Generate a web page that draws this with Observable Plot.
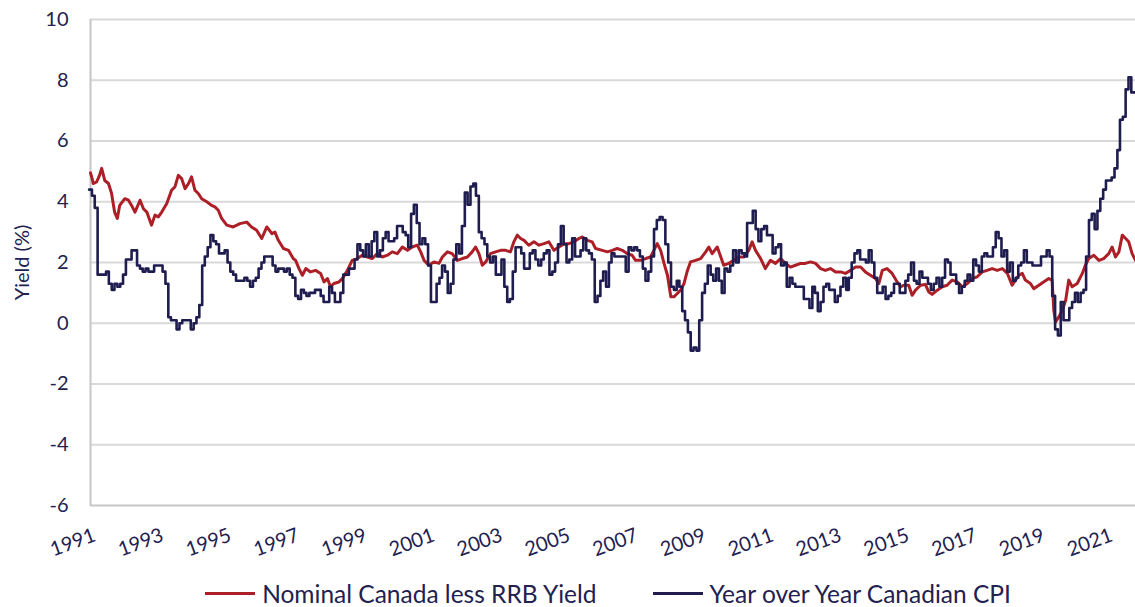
<!DOCTYPE html>
<html>
<head>
<meta charset="utf-8">
<script src="https://cdn.jsdelivr.net/npm/d3@7"></script>
<script src="https://cdn.jsdelivr.net/npm/@observablehq/plot@0.6"></script>
<style>
  html, body { margin: 0; padding: 0; background: #fff; }
  body { font-family: Lato, "Source Sans Pro", "Noto Sans", sans-serif; color: #22214f; width: 1135px; }
  #chart svg { display: block; }
  #legend { display: flex; justify-content: center; align-items: center; gap: 56px;
            box-sizing: border-box; width: 1135px; padding-left: 90px; padding-right: 9px;
            height: 27px; font-size: 24.5px; color: #22214f; }
  .item { display: flex; align-items: center; gap: 7px; white-space: nowrap; }
  .sw { width: 50px; height: 3px; }
</style>
</head>
<body>
<div id="chart"></div>
<div id="legend"></div>
<script>
// ---- data ----
const seriesNames = ["Nominal Canada less RRB Yield", "Year over Year Canadian CPI"];
const seriesColors = ["#ad1f27", "#1f1d4f"];
const yTitle = "Yield (%)";
const yTicks = [-6, -4, -2, 0, 2, 4, 6, 8, 10];
const xTickYears = [1991, 1993, 1995, 1997, 1999, 2001, 2003, 2005, 2007, 2009, 2011, 2013, 2015, 2017, 2019, 2021];
const xRange = [1991.79, 2022.62]; // decimal years covered by the data

// Nominal Canada less RRB yield (breakeven), [decimal year, %]
const breakeven = [
  [1991.79,4.95],[1991.84,4.75],[1991.87,4.6],[1991.97,4.65],[1992.05,4.85],[1992.12,5.1],[1992.21,4.7],
  [1992.32,4.6],[1992.41,4.28],[1992.50,3.66],[1992.58,3.45],[1992.65,3.88],[1992.80,4.1],[1992.91,4.05],
  [1993.00,3.88],[1993.10,3.66],[1993.25,4.05],[1993.35,3.77],[1993.45,3.66],[1993.59,3.23],[1993.69,3.56],
  [1993.79,3.5],[1993.89,3.66],[1994.04,3.94],[1994.18,4.38],[1994.28,4.49],[1994.38,4.87],[1994.48,4.76],
  [1994.58,4.43],[1994.68,4.6],[1994.77,4.82],[1994.87,4.38],[1994.97,4.27],[1995.07,4.1],[1995.22,4.0],
  [1995.36,3.88],[1995.46,3.83],[1995.56,3.72],[1995.66,3.45],[1995.81,3.23],[1996.00,3.17],[1996.20,3.28],
  [1996.40,3.33],[1996.54,3.17],[1996.69,3.06],[1996.84,2.79],[1996.99,3.17],[1997.14,2.95],[1997.23,3.0],
  [1997.33,2.73],[1997.48,2.46],[1997.63,2.4],[1997.77,2.13],[1997.84,2.07],[1997.94,1.8],[1998.04,1.58],
  [1998.14,1.8],[1998.28,1.69],[1998.43,1.74],[1998.58,1.64],[1998.68,1.36],[1998.78,1.47],[1998.87,1.2],
  [1998.97,1.31],[1999.12,1.36],[1999.22,1.47],[1999.37,1.74],[1999.51,2.07],[1999.66,2.13],[1999.81,2.24],
  [1999.96,2.18],[2000.10,2.13],[2000.25,2.29],[2000.40,2.18],[2000.55,2.24],[2000.69,2.35],[2000.84,2.29],
  [2000.99,2.51],[2001.14,2.4],[2001.28,2.51],[2001.43,2.57],[2001.53,2.35],[2001.63,2.07],[2001.77,1.91],
  [2001.92,2.02],[2002.07,1.97],[2002.17,2.18],[2002.32,2.35],[2002.46,2.29],[2002.61,2.07],[2002.76,2.13],
  [2002.91,2.18],[2003.05,2.35],[2003.15,2.51],[2003.25,2.29],[2003.35,1.91],[2003.45,2.02],[2003.59,2.29],
  [2003.74,2.35],[2003.89,2.4],[2004.04,2.4],[2004.18,2.35],[2004.28,2.68],[2004.38,2.9],[2004.48,2.79],
  [2004.58,2.73],[2004.72,2.57],[2004.87,2.68],[2005.02,2.57],[2005.17,2.62],[2005.31,2.68],[2005.46,2.4],
  [2005.61,2.51],[2005.76,2.62],[2005.90,2.62],[2006.05,2.68],[2006.20,2.79],[2006.30,2.84],[2006.45,2.73],
  [2006.59,2.68],[2006.69,2.46],[2006.89,2.4],[2007.04,2.35],[2007.18,2.4],[2007.33,2.46],[2007.48,2.4],
  [2007.63,2.29],[2007.77,2.24],[2007.87,2.07],[2008.02,2.07],[2008.17,2.13],[2008.31,2.18],[2008.41,2.4],
  [2008.51,2.62],[2008.61,2.4],[2008.71,1.97],[2008.81,1.58],[2008.91,0.87],[2009.00,0.87],[2009.10,0.98],
  [2009.20,1.09],[2009.30,1.31],[2009.40,1.74],[2009.49,2.02],[2009.64,2.07],[2009.79,2.13],[2009.94,2.35],
  [2010.03,2.51],[2010.13,2.29],[2010.28,2.51],[2010.38,2.2],[2010.47,1.91],[2010.62,1.97],[2010.77,2.07],
  [2010.92,2.18],[2011.06,2.18],[2011.21,2.4],[2011.31,2.68],[2011.41,2.4],[2011.56,2.13],[2011.70,1.8],
  [2011.85,2.07],[2012.00,1.97],[2012.15,2.13],[2012.29,1.97],[2012.44,1.85],[2012.59,1.91],[2012.74,1.97],
  [2012.88,1.97],[2013.03,2.02],[2013.18,1.97],[2013.33,1.8],[2013.47,1.74],[2013.62,1.8],[2013.77,1.69],
  [2013.92,1.69],[2014.06,1.64],[2014.21,1.74],[2014.36,1.85],[2014.51,1.85],[2014.65,1.69],[2014.80,1.58],
  [2014.95,1.47],[2015.05,1.31],[2015.15,1.74],[2015.29,1.8],[2015.44,1.64],[2015.59,1.36],[2015.69,1.2],
  [2015.78,1.25],[2015.93,1.25],[2016.03,0.92],[2016.13,1.09],[2016.28,1.25],[2016.42,1.28],[2016.52,1.03],
  [2016.62,0.95],[2016.77,1.09],[2016.92,1.2],[2017.06,1.25],[2017.21,1.42],[2017.36,1.36],[2017.51,1.2],
  [2017.66,1.31],[2017.80,1.47],[2017.95,1.53],[2018.10,1.69],[2018.24,1.74],[2018.39,1.8],[2018.54,1.74],
  [2018.69,1.8],[2018.84,1.64],[2018.98,1.25],[2019.08,1.42],[2019.18,1.58],[2019.28,1.64],[2019.37,1.42],
  [2019.52,1.31],[2019.62,1.14],[2019.77,1.25],[2019.91,1.36],[2020.06,1.47],[2020.16,1.42],[2020.21,0.43],
  [2020.26,0.04],[2020.36,0.21],[2020.46,0.43],[2020.56,0.76],[2020.65,1.42],[2020.75,1.2],[2020.90,1.31],
  [2021.05,1.64],[2021.14,1.91],[2021.24,2.13],[2021.39,2.24],[2021.54,2.07],[2021.68,2.13],[2021.83,2.29],
  [2021.93,2.51],[2022.03,2.18],[2022.13,2.35],[2022.23,2.9],[2022.33,2.79],[2022.42,2.68],[2022.52,2.29],
  [2022.62,2.07]
];

// Year over year Canadian CPI, monthly, starting October 1991
const cpiStartYear = 1991, cpiStartMonth = 10;
const cpiValues = [
  4.4, 4.2, 3.8,
  1.6, 1.6, 1.6, 1.7, 1.3, 1.1, 1.3, 1.2, 1.3, 1.6, 2.1, 2.1,
  2.4, 2.4, 1.9, 1.8, 1.7, 1.8, 1.7, 1.7, 1.9, 1.9, 1.9, 1.7,
  1.3, 0.2, 0.1, 0.1, -0.2, 0.0, 0.1, 0.1, 0.1, -0.2, 0.0, 0.2,
  0.6, 1.9, 2.2, 2.5, 2.9, 2.7, 2.6, 2.3, 2.3, 2.4, 2.0, 1.7,
  1.6, 1.4, 1.4, 1.4, 1.5, 1.4, 1.2, 1.4, 1.5, 1.8, 2.0, 2.2,
  2.2, 2.2, 1.9, 1.7, 1.8, 1.8, 1.7, 1.8, 1.6, 1.5, 0.9, 0.8,
  1.1, 1.0, 0.9, 1.0, 1.0, 1.1, 1.1, 0.9, 0.7, 0.7, 1.2, 1.0,
  0.7, 0.7, 1.0, 1.6, 1.6, 1.8, 1.8, 2.1, 2.6, 2.4, 2.2, 2.6,
  2.2, 2.7, 3.0, 2.2, 2.4, 2.8, 3.0, 2.7, 2.7, 2.8, 3.2, 3.2,
  3.0, 2.9, 2.5, 3.6, 3.9, 3.3, 2.6, 2.8, 2.6, 1.9, 0.7, 0.7,
  1.3, 1.5, 1.9, 1.7, 1.0, 1.3, 2.1, 2.6, 2.3, 3.2, 4.3, 3.9,
  4.5, 4.6, 4.2, 3.0, 2.8, 2.6, 2.2, 2.0, 2.2, 1.6, 1.6, 2.1,
  1.2, 0.7, 0.8, 1.7, 2.5, 2.5, 2.3, 1.8, 1.8, 2.3, 2.4, 2.1,
  1.9, 2.1, 2.3, 2.4, 1.6, 1.7, 2.0, 2.6, 3.2, 2.6, 2.0, 2.1,
  2.8, 2.2, 2.2, 2.4, 2.8, 2.4, 2.3, 2.1, 0.7, 0.9, 1.4, 1.7,
  1.2, 2.0, 2.3, 2.2, 2.2, 2.2, 2.2, 1.7, 2.5, 2.4, 2.5, 2.4,
  2.2, 1.8, 1.4, 1.7, 2.2, 3.1, 3.4, 3.5, 3.4, 2.6, 2.0, 1.2,
  1.1, 1.4, 1.2, 0.4, 0.1, -0.3, -0.9, -0.8, -0.9, 0.1, 1.0, 1.3,
  1.9, 1.6, 1.4, 1.8, 1.4, 1.0, 1.8, 1.7, 1.9, 2.4, 2.0, 2.4,
  2.3, 2.2, 3.3, 3.3, 3.7, 3.1, 2.7, 3.1, 3.2, 2.9, 2.9, 2.3,
  2.5, 2.6, 1.9, 2.0, 1.2, 1.5, 1.3, 1.2, 1.2, 1.2, 0.8, 0.8,
  0.5, 1.2, 1.0, 0.4, 0.7, 1.2, 1.3, 1.1, 1.1, 0.7, 0.9, 1.2,
  1.5, 1.1, 1.5, 2.0, 2.3, 2.4, 2.1, 2.1, 2.0, 2.4, 2.0, 1.5,
  1.0, 1.0, 1.2, 0.8, 0.9, 1.0, 1.3, 1.3, 1.0, 1.0, 1.4, 1.6,
  2.0, 1.4, 1.3, 1.7, 1.5, 1.5, 1.3, 1.1, 1.3, 1.5, 1.2, 1.5,
  2.1, 2.0, 1.6, 1.6, 1.3, 1.0, 1.2, 1.4, 1.6, 1.4, 2.1, 1.9,
  1.7, 2.2, 2.3, 2.2, 2.2, 2.5, 3.0, 2.8, 2.2, 2.4, 1.7, 2.0,
  1.4, 1.5, 1.9, 2.0, 2.4, 2.0, 2.0, 1.9, 1.9, 1.9, 2.2, 2.2,
  2.4, 2.2, 0.9, -0.2, -0.4, 0.7, 0.1, 0.1, 0.5, 0.7, 1.0, 0.7,
  1.0, 1.1, 2.2, 3.4, 3.6, 3.1, 3.7, 4.1, 4.4, 4.7, 4.7, 4.8,
  5.1, 5.7, 6.7, 6.8, 7.7, 8.1, 7.6
];

// ---- helpers / tables ----
function decYear(t) {
  const y = Math.floor(t);
  const s = Date.UTC(y, 0, 1), e = Date.UTC(y + 1, 0, 1);
  return new Date(s + (t - y) * (e - s));
}
const xDomain = xRange.map(decYear);
const redRows = breakeven.map(([t, v]) => ({date: decYear(t), value: v}));
const cpiRows = cpiValues.map((v, i) => ({date: new Date(Date.UTC(cpiStartYear, cpiStartMonth - 1 + i, 1)), value: v}));
cpiRows.unshift({date: xDomain[0], value: cpiValues[0]});
cpiRows.push({date: xDomain[1], value: cpiValues[cpiValues.length - 1]});
const xTicks = xTickYears.map(y => new Date(Date.UTC(y, 11, 1)));

const textColor = "#22214f";

const chart = Plot.plot({
  width: 1135,
  height: 580,
  marginLeft: 90,
  marginRight: 0,
  marginTop: 19,
  marginBottom: 75,
  style: {fontFamily: "Lato, 'Source Sans Pro', sans-serif", fontSize: "20px", color: textColor, background: "#fff"},
  x: {type: "utc", domain: xDomain},
  y: {domain: [-6, 10]},
  marks: [
    Plot.ruleY(yTicks.filter(d => d > -6), {stroke: "#d9d9d9", strokeWidth: 2}),
    Plot.ruleY([-6], {stroke: "#c6c6c6", strokeWidth: 2}),
    Plot.ruleX([xDomain[0]], {stroke: "#c6c6c6", strokeWidth: 2}),
    Plot.line(redRows, {x: "date", y: "value", stroke: seriesColors[0], strokeWidth: 3, strokeLinejoin: "round"}),
    Plot.line(cpiRows, {x: "date", y: "value", curve: "step-after", stroke: seriesColors[1], strokeWidth: 2.6}),
    Plot.axisY({ticks: yTicks, tickSize: 0, tickPadding: 22, tickFormat: d => String(d), fontSize: 20, label: null}),
    Plot.text([yTitle], {frameAnchor: "left", textAnchor: "middle", lineAnchor: "middle", rotate: -90, dx: -68,
                         fontSize: 20, fill: textColor}),
    Plot.axisX({ticks: xTicks, tickFormat: d => String(d.getUTCFullYear()), tickRotate: -20, tickSize: 0,
                tickPadding: 29, fontSize: 20, label: null})
  ]
});
document.getElementById("chart").appendChild(chart);

const legend = document.getElementById("legend");
seriesNames.forEach((name, i) => {
  const item = document.createElement("div");
  item.className = "item";
  const sw = document.createElement("div");
  sw.className = "sw";
  sw.style.background = seriesColors[i];
  const label = document.createElement("span");
  label.textContent = name;
  item.appendChild(sw);
  item.appendChild(label);
  legend.appendChild(item);
});
</script>
</body>
</html>
